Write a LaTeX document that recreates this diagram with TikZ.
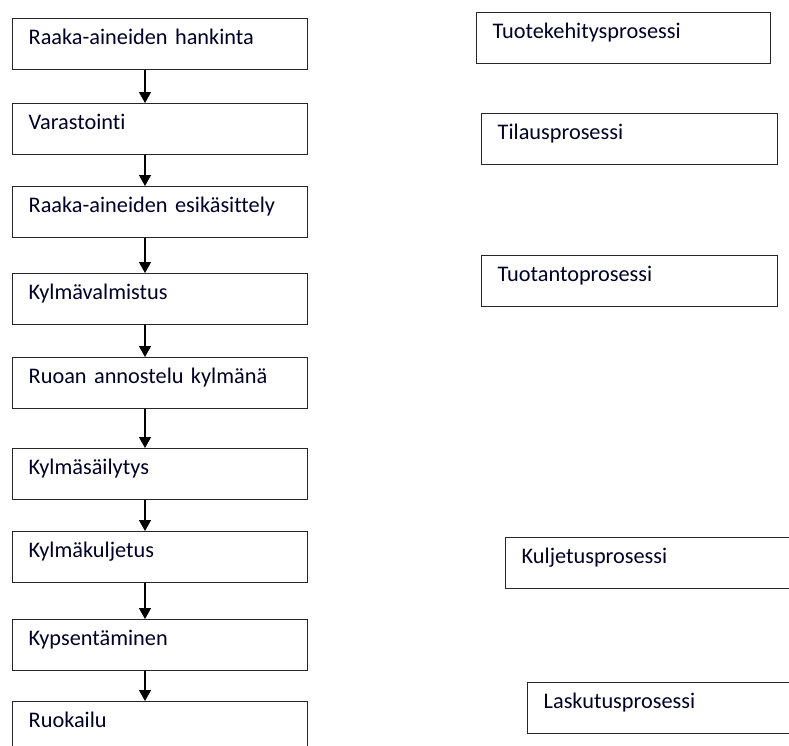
\documentclass[tikz,border=0pt]{standalone}
\usepackage{fontspec}
\setmainfont[Ligatures=NoCommon]{Carlito}
\usetikzlibrary{arrows.meta}

\begin{document}
\begin{tikzpicture}[x=1pt, y=-1pt,
  stepbox/.style={draw=black!85, line width=1.4pt, inner xsep=16pt, inner ysep=0pt,
    text height=26pt, text depth=25pt, text width=#1-32pt, align=left,
    anchor=north west, font=\fontsize{22.3}{26}\selectfont, text=black!85!blue},
  stepbox/.default=295pt,
  flow/.style={line width=1.5pt, -{Triangle[length=11pt,width=12pt]}}]
  \useasboundingbox (0,0) rectangle (789,745);
  \clip (0,0) rectangle (789,745);

  % main chain of steps
  \node[stepbox] (s1) at (12,18)  {Raaka-aineiden hankinta};
  \node[stepbox] (s2) at (12,103) {Varastointi};
  \node[stepbox] (s3) at (12,186) {Raaka-aineiden esikäsittely};
  \node[stepbox] (s4) at (12,273) {Kylmävalmistus};
  \node[stepbox] (s5) at (12,357) {Ruoan annostelu kylmänä};
  \node[stepbox] (s6) at (12,448) {Kylmäsäilytys};
  \node[stepbox] (s7) at (12,531) {Kylmäkuljetus};
  \node[stepbox] (s8) at (12,619) {Kypsentäminen};
  \node[stepbox] (s9) at (12,701) {Ruokailu};

  % processes on the right
  \node[stepbox=294pt] (p1) at (476,12)  {Tuotekehitysprosessi};
  \node[stepbox=296pt] (p2) at (481,113) {Tilausprosessi};
  \node[stepbox=296pt] (p3) at (481,255) {Tuotantoprosessi};
  \node[stepbox=300pt] (p4) at (505,537) {Kuljetusprosessi};
  \node[stepbox=300pt] (p5) at (527,682) {Laskutusprosessi};

  % arrows between steps
  \coordinate (ax) at (145,0);
  \foreach \a/\b in {s1/s2,s2/s3,s3/s4,s4/s5,s5/s6,s6/s7,s7/s8,s8/s9}
    \draw[flow] (\a.south -| ax) -- (\b.north -| ax);
\end{tikzpicture}
\end{document}
